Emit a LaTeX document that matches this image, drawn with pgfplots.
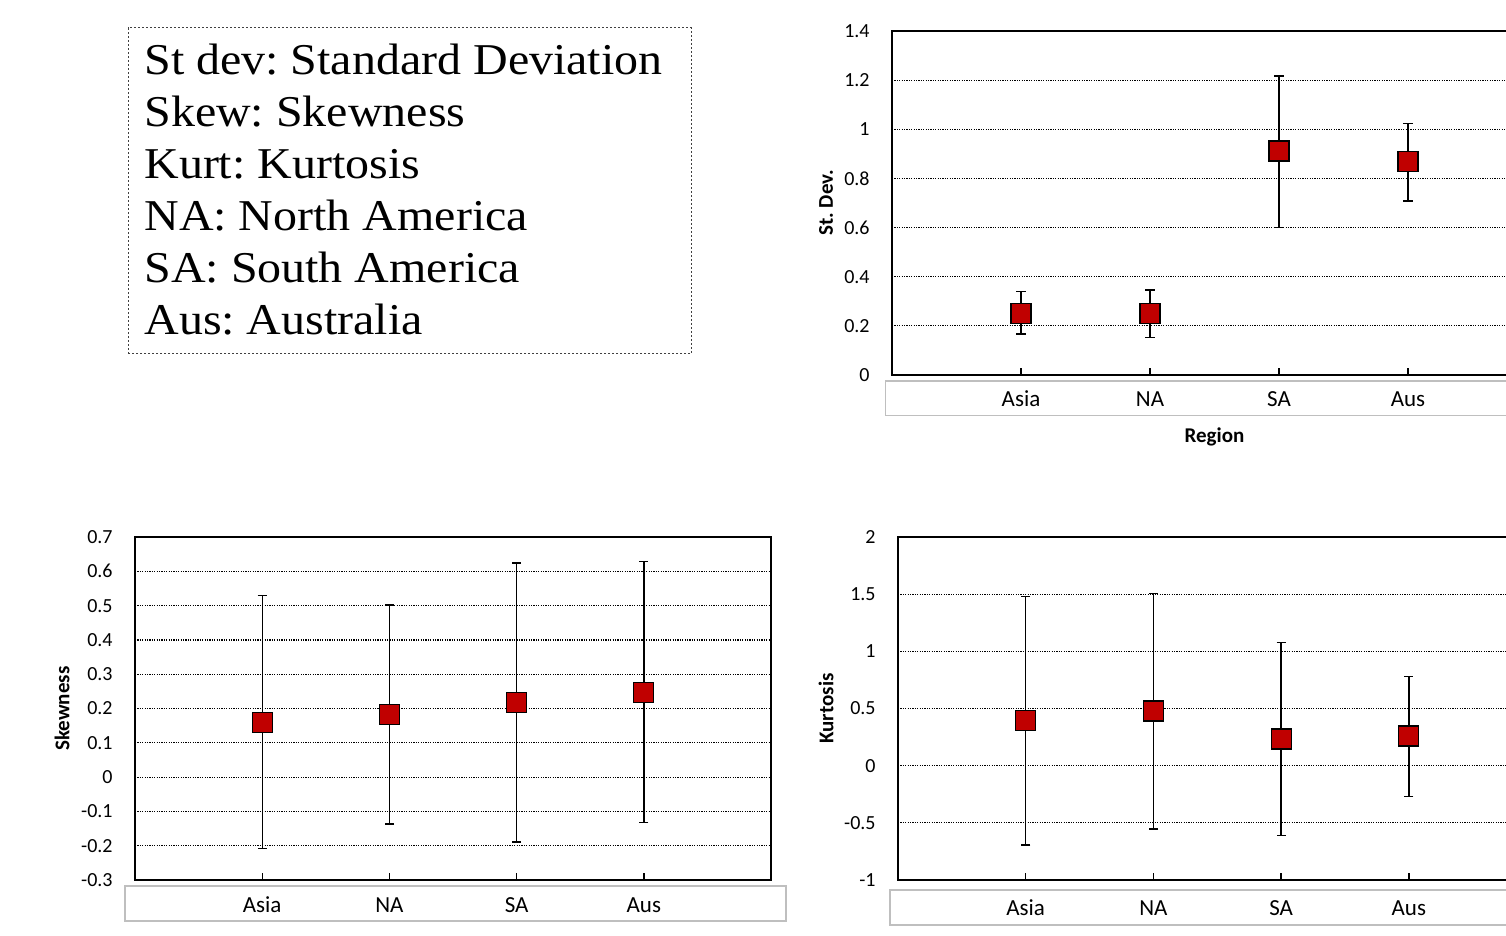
\documentclass[border=0pt]{standalone}
\usepackage{pgfplots}
\pgfplotsset{compat=1.18}
\usepackage{pgfplotstable}
\usepackage{fontspec}
\setmainfont{Carlito}
\newfontfamily\boxfont[FakeStretch=1.09]{Liberation Serif}
\definecolor{mred}{RGB}{192,0,0}
\definecolor{boxgray}{RGB}{191,191,191}
\frenchspacing

\pgfplotstableread{
x y ep em
1 0.251 0.088 0.084
2 0.251 0.095 0.098
3 0.912 0.305 0.311
4 0.868 0.156 0.160
}\sdtab

\pgfplotstableread{
x y ep em
1 0.160 0.369 0.368
2 0.183 0.319 0.320
3 0.217 0.407 0.406
4 0.247 0.382 0.380
}\sktab

\pgfplotstableread{
x y ep em
1 0.393 1.085 1.088
2 0.478 1.026 1.033
3 0.233 0.842 0.843
4 0.259 0.522 0.528
}\kutab

\pgfplotsset{
 panel/.style={
  scale only axis, anchor=south west,
  xmin=0, xmax=5, xtick={1,2,3,4}, xticklabels={Asia,NA,SA,Aus},
  xtick pos=bottom,
  axis line style={black, line width=1bp},
  tick align=inside, major tick length=3.5bp,
  xtick style={black, line width=0.7bp},
  ytick style={draw=none},
  ymajorgrids,
  major grid style={black, line width=0.6bp, dash pattern=on 0.6bp off 0.6bp},
  /pgf/number format/assume math mode=true,
  yticklabel style={font=\fontsize{10bp}{12bp}\selectfont, anchor=east, inner sep=0pt, xshift=-11bp},
  xticklabel style={font=\fontsize{11.5bp}{13bp}\selectfont, anchor=base, inner sep=0pt},
  every axis y label/.style={rotate=90, anchor=center, font=\bfseries\fontsize{10.5bp}{12bp}\selectfont},
  every axis x label/.style={anchor=center, font=\bfseries\fontsize{10.5bp}{12bp}\selectfont},
 },
 ebars/.style={only marks, mark=none, forget plot,
  error bars/.cd, y dir=both, y explicit,
  error bar style={black, line width=0.7bp},
  error mark options={black, rotate=90, mark size=2.3bp, line width=0.7bp}},
 sqmarks/.style={only marks, mark=square*, mark size=5bp,
  mark options={fill=mred, draw=black, line width=0.6bp}},
}

\begin{document}
\begin{tikzpicture}
\useasboundingbox (0,0) rectangle (753bp,468bp);
\clip (0,0) rectangle (753bp,468bp);

% text box
\draw[black!75, line width=0.5bp, dash pattern=on 1.2bp off 0.8bp] (64bp,291bp) rectangle (345.5bp,454bp);
\begin{scope}[every node/.style={anchor=base west, inner sep=0pt, font=\boxfont\fontsize{22bp}{26bp}\selectfont}]
\node at (72bp,430.85bp) {St dev: Standard Deviation};
\node at (72bp,404.85bp) {Skew: Skewness};
\node at (72bp,378.85bp) {Kurt: Kurtosis};
\node at (72bp,352.85bp) {NA: North America};
\node at (72bp,326.85bp) {SA: South America};
\node at (72bp,300.85bp) {Aus: Australia};
\end{scope}

% category boxes
\draw[boxgray, line width=0.7bp] (442.75bp,260.25bp) rectangle (770bp,277.5bp);
\draw[boxgray, line width=0.7bp] (62.5bp,7.5bp) rectangle (393bp,25bp);
\draw[boxgray, line width=0.7bp] (445bp,5.5bp) rectangle (770bp,23bp);

% St. Dev.
\begin{axis}[panel, at={(446bp,280.5bp)}, width=322.5bp, height=172bp,
  ymin=0, ymax=1.4, ytick={0,0.2,0.4,0.6,0.8,1,1.2,1.4},
  yticklabels={0,0.2,0.4,0.6,0.8,1,1.2,1.4},
  xticklabel style={yshift=-16bp},
  ylabel={St. Dev.}, ylabel style={at={(axis description cs:-0.1023,0.5)}},
  xlabel={Region}, xlabel style={at={(axis description cs:0.5,-0.180)}}]
\addplot[ebars] table[x=x, y=y, y error plus=ep, y error minus=em] {\sdtab};
\addplot[sqmarks] table[x=x, y=y] {\sdtab};
\end{axis}

% Skewness
\begin{axis}[panel, at={(67.5bp,28bp)}, width=318bp, height=171.5bp,
  ymin=-0.3, ymax=0.7, ytick={-0.3,-0.2,-0.1,0,0.1,0.2,0.3,0.4,0.5,0.6,0.7},
  yticklabels={-0.3,-0.2,-0.1,0,0.1,0.2,0.3,0.4,0.5,0.6,0.7},
  xticklabel style={yshift=-16.5bp},
  ylabel={Skewness}, ylabel style={at={(axis description cs:-0.1148,0.5)}}]
\addplot[ebars] table[x=x, y=y, y error plus=ep, y error minus=em] {\sktab};
\addplot[sqmarks] table[x=x, y=y] {\sktab};
\end{axis}

% Kurtosis
\begin{axis}[panel, at={(449bp,28bp)}, width=319.25bp, height=171.5bp,
  ymin=-1, ymax=2, ytick={-1,-0.5,0,0.5,1,1.5,2},
  yticklabels={-1,-0.5,0,0.5,1,1.5,2},
  xticklabel style={yshift=-18bp},
  ylabel={Kurtosis}, ylabel style={at={(axis description cs:-0.1128,0.5)}}]
\addplot[ebars] table[x=x, y=y, y error plus=ep, y error minus=em] {\kutab};
\addplot[sqmarks] table[x=x, y=y] {\kutab};
\end{axis}
\end{tikzpicture}
\end{document}
